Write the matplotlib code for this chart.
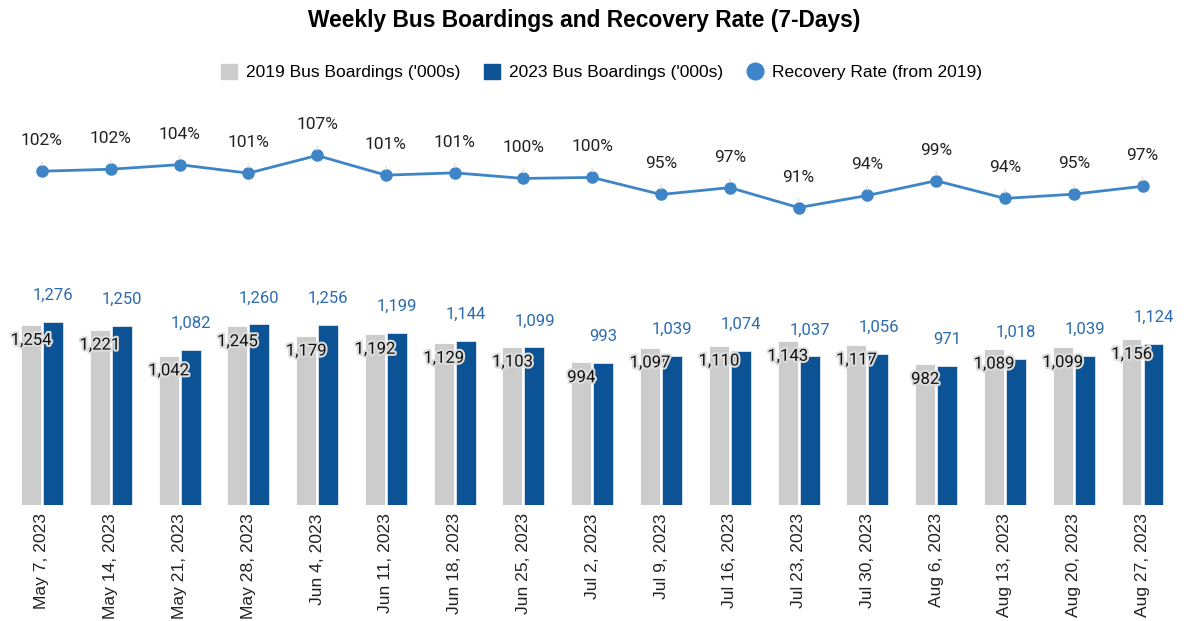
import matplotlib
matplotlib.use("Agg")
import matplotlib.pyplot as plt
import matplotlib.patheffects as pe
from matplotlib.lines import Line2D
from matplotlib.patches import Patch
import numpy as np

weeks = ["May 7, 2023", "May 14, 2023", "May 21, 2023", "May 28, 2023", "Jun 4, 2023",
         "Jun 11, 2023", "Jun 18, 2023", "Jun 25, 2023", "Jul 2, 2023", "Jul 9, 2023",
         "Jul 16, 2023", "Jul 23, 2023", "Jul 30, 2023", "Aug 6, 2023", "Aug 13, 2023",
         "Aug 20, 2023", "Aug 27, 2023"]
boardings_2019 = [1254, 1221, 1042, 1245, 1179, 1192, 1129, 1103, 994, 1097,
                  1110, 1143, 1117, 982, 1089, 1099, 1156]
boardings_2023 = [1276, 1250, 1082, 1260, 1256, 1199, 1144, 1099, 993, 1039,
                  1074, 1037, 1056, 971, 1018, 1039, 1124]
recovery = [1.018, 1.024, 1.038, 1.012, 1.066, 1.006, 1.013, 0.996, 0.999, 0.947,
            0.968, 0.907, 0.944, 0.989, 0.935, 0.948, 0.972]

GRAY = "#cccccc"
BLUE = "#0b5394"
LINE = "#3d85c6"
LBL_BLUE = "#2b6cb0"

fig = plt.figure(figsize=(12.03, 6.21), dpi=100)
ax = fig.add_axes([0.0063, 0.1868, 0.972, 0.660])
x = np.arange(len(weeks))
w = 0.29
ax.bar(x - 0.16, boardings_2019, w, color=GRAY, edgecolor="white", linewidth=0.6)
ax.bar(x + 0.16, boardings_2023, w, color=BLUE, edgecolor="#dfe6ef", linewidth=0.6)
ax.set_ylim(0, 2857)
ax.set_xlim(-0.5, len(weeks) - 0.5)
ax.set_yticks([])
for s in ax.spines.values():
    s.set_visible(False)
ax.set_xticks(x)
ax.set_xticklabels(weeks, rotation=90, fontsize=12.6, color="#222222", family="Liberation Sans")
ax.tick_params(axis="x", length=0, pad=6)

halo = [pe.withStroke(linewidth=3, foreground="#dcdcdc")]
for i in range(len(weeks)):
    ax.annotate(f"{boardings_2019[i]:,}", (x[i] - 0.16, boardings_2019[i]),
                xytext=(0, -11), textcoords="offset points", ha="center", va="center",
                fontsize=12, color="#111111", family="Roboto", path_effects=halo)
    ax.annotate(f"{boardings_2023[i]:,}", (x[i] + 0.16, boardings_2023[i]),
                xytext=(0, 19), textcoords="offset points", ha="center", va="center",
                fontsize=12, color=LBL_BLUE, family="Roboto")

ax2 = ax.twinx()
ax2.set_ylim(0, 1.25)
ax2.set_yticks([])
for s in ax2.spines.values():
    s.set_visible(False)
ax2.plot(x, recovery, color=LINE, linewidth=2, marker="o", markersize=8, zorder=3)
for i in range(len(weeks)):
    ax2.annotate(f"{recovery[i]*100:.0f}%", (x[i], recovery[i]),
                 xytext=(0, 22), textcoords="offset points", ha="center", va="center",
                 fontsize=12.5, color="#222222", family="Roboto",
                 arrowprops=dict(arrowstyle="-", color="#e0e0e0", lw=1,
                                 shrinkA=8, shrinkB=4))

fig.text(0.486, 0.967, "Weekly Bus Boardings and Recovery Rate (7-Days)", ha="center",
         va="center", fontsize=16.4, fontweight="bold", family="Liberation Sans")

handles = [Patch(color=GRAY, label="2019 Bus Boardings ('000s)"),
           Patch(color=BLUE, label="2023 Bus Boardings ('000s)"),
           Line2D([], [], marker="o", linestyle="none", color=LINE, markersize=12,
                  label="Recovery Rate (from 2019)")]
fig.legend(handles=handles, loc="center", bbox_to_anchor=(0.5, 0.884), ncol=3,
           frameon=False, prop={"family": "Liberation Sans", "size": 12.5},
           handlelength=0.9, handleheight=1.0, handletextpad=0.5, columnspacing=1.4)

fig.savefig("out.png", dpi=100)
